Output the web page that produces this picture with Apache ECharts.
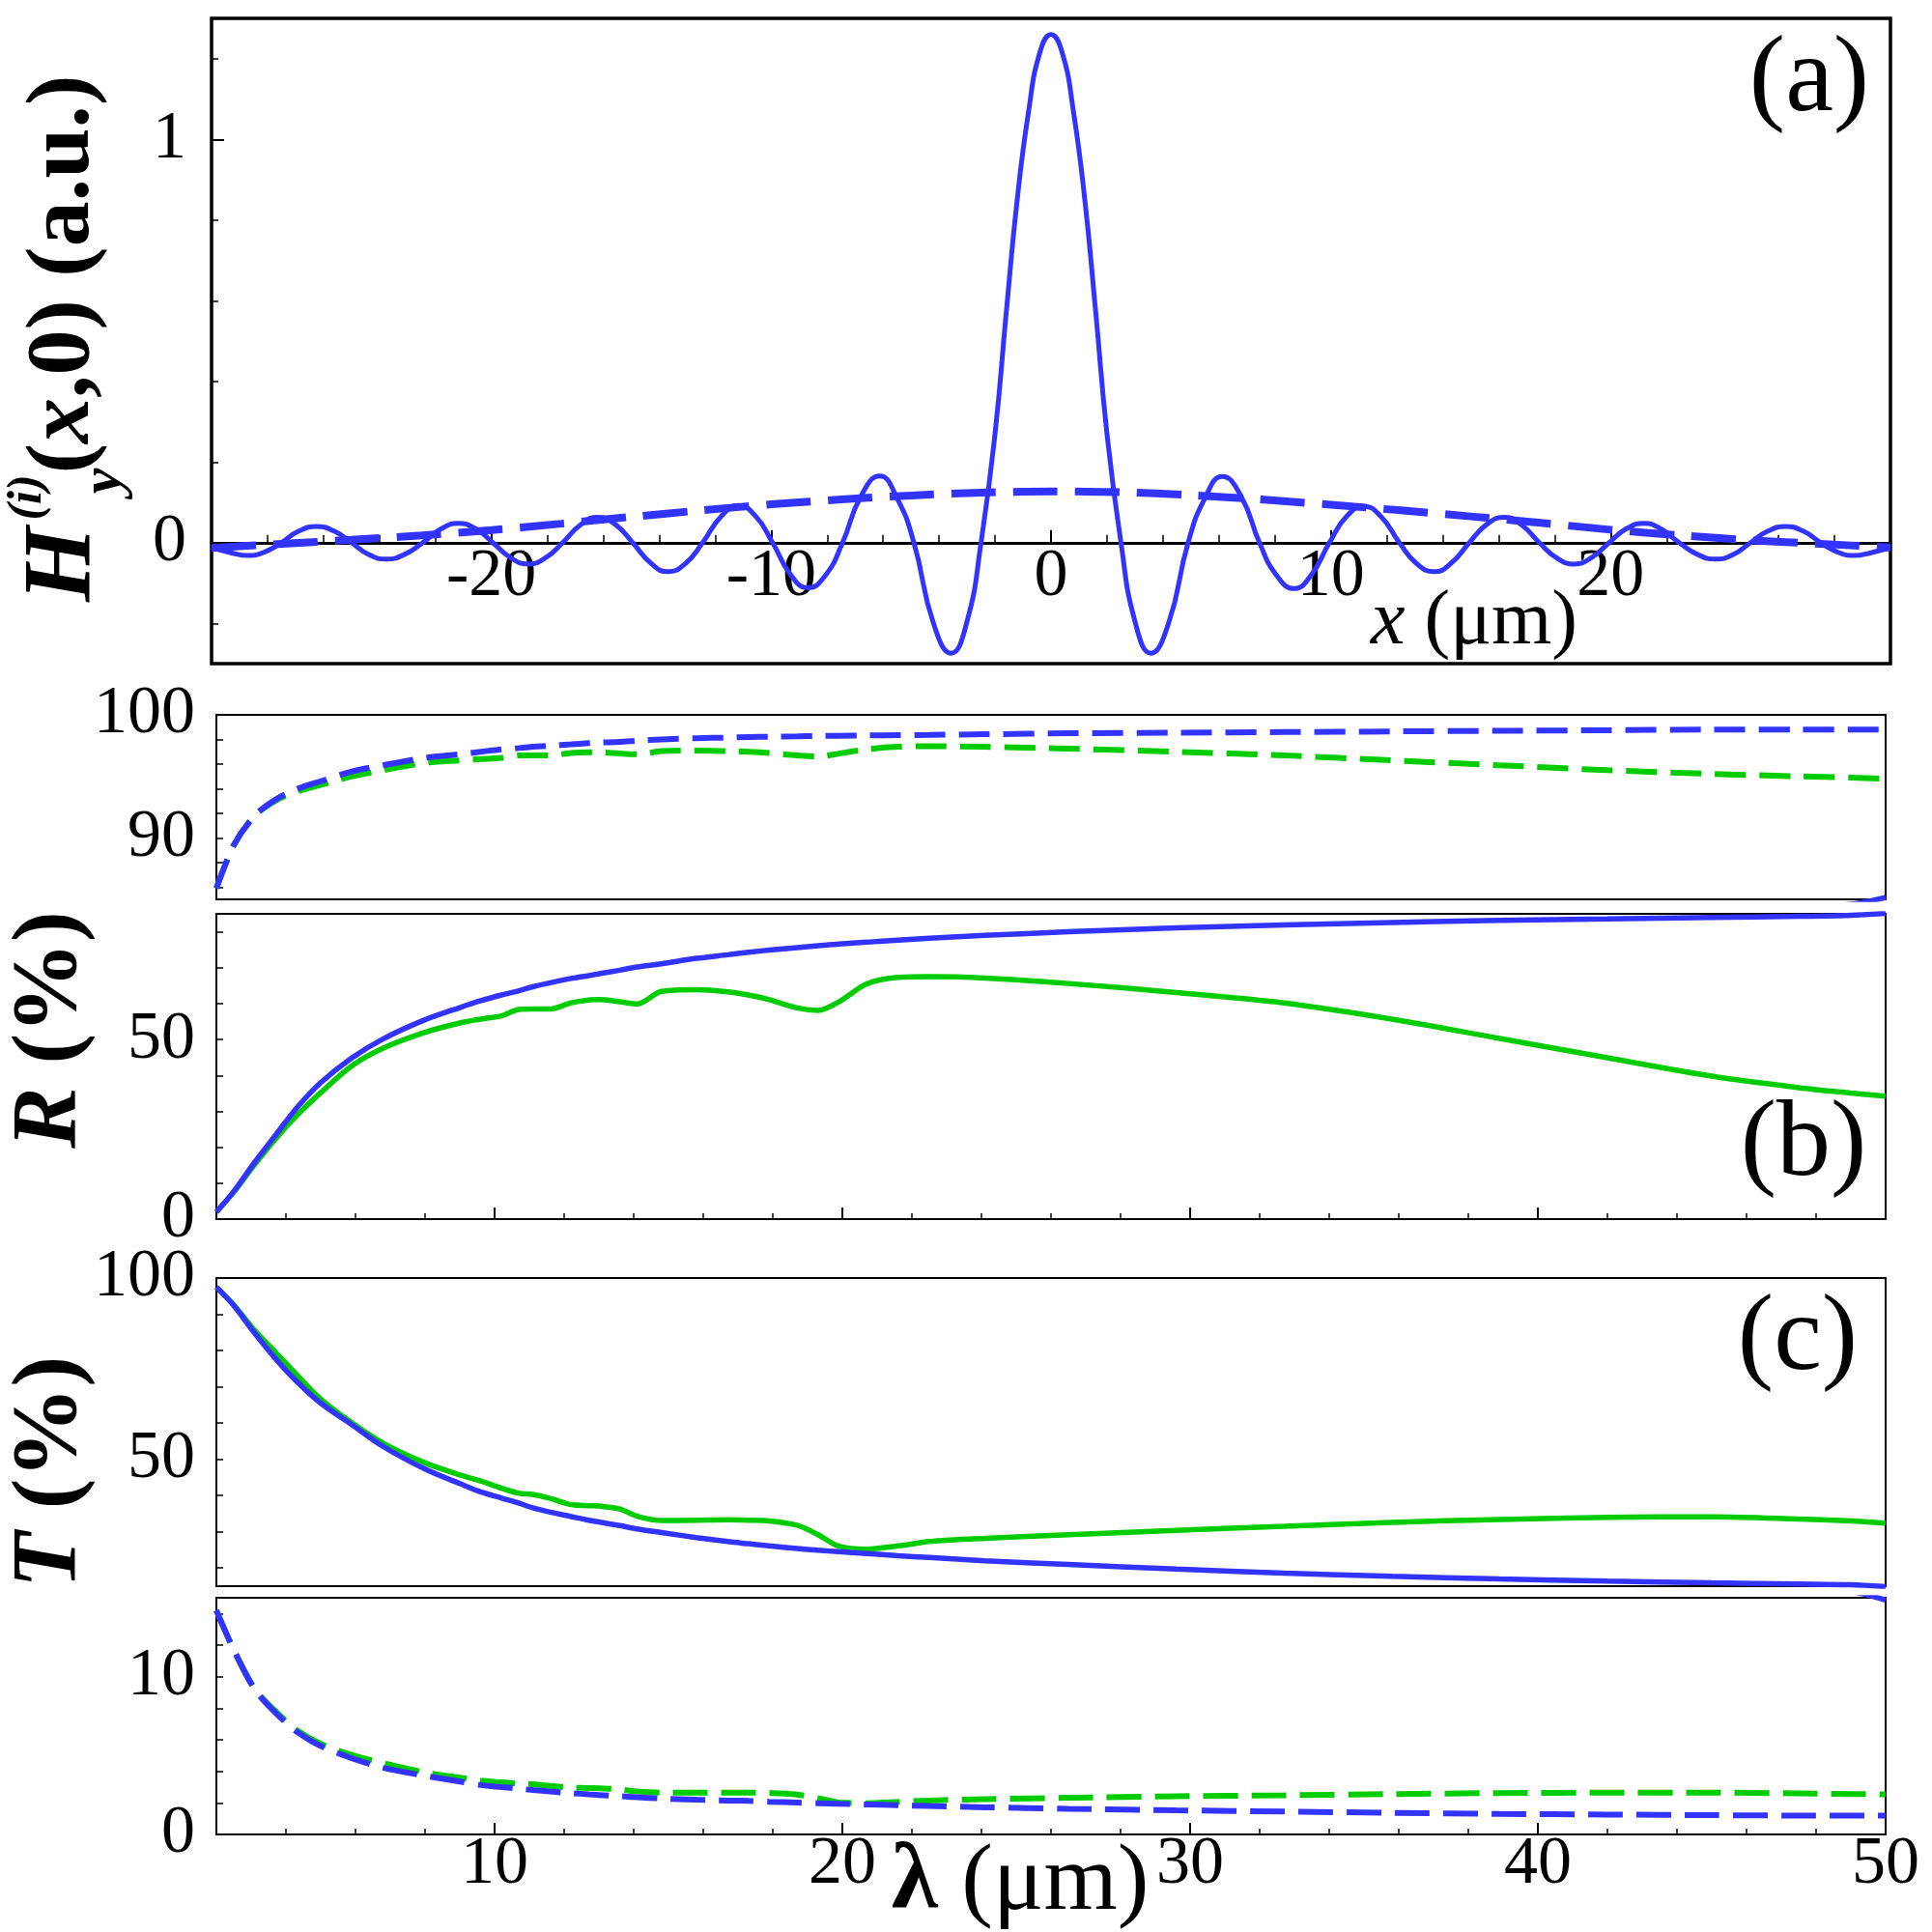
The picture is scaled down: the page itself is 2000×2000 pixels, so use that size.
<!DOCTYPE html>
<html>
<head>
<meta charset="utf-8">
<script src="https://cdn.jsdelivr.net/npm/echarts@6/dist/echarts.min.js"></script>
<style>
  html, body { margin: 0; padding: 0; background: #fff; }
  #chart { width: 2000px; height: 2000px; }
</style>
</head>
<body>
<div id="chart"></div>
<script>
// panel (a): incident field profile along x (um)
var xA = [-30, -29.3, -28.72, -28.1, -27.5, -26.9, -26.25, -25.6, -25.0, -24.4, -23.75, -23.1, -22.45, -21.8, -21.2, -20.55,
  -19.95, -19.3, -18.7, -18.05, -17.45, -16.8, -16.2, -15.55, -14.95, -14.3, -13.7, -13.05, -12.45, -11.8, -11.18, -10.55,
  -9.95, -9.3, -8.69, -8.05, -7.45, -6.8, -6.12, -5.5, -4.9, -4.2, -3.57, -3.0, -2.5, -2.0, -1.6, -1.2, -0.8, -0.4,
  0, 0.4, 0.8, 1.2, 1.6, 2.0, 2.5, 3.0, 3.57, 4.2, 4.9, 5.5, 6.12, 6.8, 7.45, 8.05, 8.69, 9.3, 9.95,
  10.55, 11.18, 11.8, 12.45, 13.05, 13.7, 14.3, 14.95, 15.55, 16.2, 16.8, 17.45, 18.05, 18.7, 19.3, 19.95,
  20.55, 21.2, 21.8, 22.45, 23.1, 23.75, 24.4, 25.0, 25.6, 26.25, 26.9, 27.5, 28.1, 28.72, 29.3, 30];
var hA = [-0.012, -0.025, -0.032, -0.023, 0, 0.028, 0.040, 0.028, 0, -0.029, -0.041, -0.029, 0, 0.034, 0.048, 0.034,
  0, -0.038, -0.053, -0.037, 0, 0.045, 0.063, 0.044, 0, -0.051, -0.072, -0.051, 0, 0.064, 0.092, 0.065,
  0, -0.08, -0.112, -0.08, 0, 0.114, 0.165, 0.11, 0, -0.2, -0.274, -0.195, 0, 0.27, 0.57, 0.855, 1.07, 1.215,
  1.26, 1.215, 1.07, 0.855, 0.57, 0.27, 0, -0.195, -0.274, -0.2, 0, 0.11, 0.164, 0.114, 0, -0.08, -0.114, -0.08, 0,
  0.064, 0.090, 0.064, 0, -0.051, -0.072, -0.051, 0, 0.044, 0.063, 0.045, 0, -0.037, -0.053, -0.038, 0,
  0.034, 0.048, 0.034, 0, -0.029, -0.041, -0.029, 0, 0.028, 0.040, 0.028, 0, -0.023, -0.032, -0.025, -0.012];
var xB = [-30, -27.5, -25, -22.5, -20, -17.5, -15, -12.5, -10, -7.5, -5, -2.5, 0, 2.5, 5, 7.5, 10, 12.5, 15, 17.5, 20, 22.5, 25, 27.5, 30];
var hB = [-0.013, -0.003, 0.007, 0.018, 0.031, 0.047, 0.064, 0.080, 0.095, 0.107, 0.117, 0.124, 0.127, 0.125, 0.118, 0.107,
  0.094, 0.080, 0.065, 0.049, 0.032, 0.018, 0.006, -0.003, -0.012];

// panels (b), (c): wavelength (um)
var lambda = [2.0, 2.5, 3.1, 3.75, 4.35, 5.0, 5.9, 6.8, 8.0, 9.0, 9.6, 10.2, 10.7, 11.1, 11.6, 12.2, 12.7, 13.0, 13.6, 14.1,
  14.8, 15.8, 16.7, 17.3, 17.9, 18.7, 19.3, 19.9, 20.7, 21.6, 22.5, 24.1, 26.5, 29.6, 32.7, 35.8, 38.9, 42.0, 45.0, 47.5, 49.0, 50.0];
// reflectance (%)
var rBlue = [2.0, 7.7, 15.8, 24.0, 31.4, 38.0, 44.9, 50.2, 55.5, 58.9, 60.8, 62.4, 63.6, 64.7, 65.8, 67.0, 67.8, 68.3, 69.3, 70.2,
  71.1, 72.6, 73.6, 74.3, 74.9, 75.6, 76.1, 76.6, 77.1, 77.7, 78.2, 79.0, 80.0, 81.1, 81.9, 82.6, 83.2, 83.6, 84.0, 84.3, 84.6, 85.15];
var rGreen = [2.0, 7.5, 15.2, 22.9, 29.2, 35.2, 42.7, 47.6, 52.0, 54.6, 55.7, 56.6, 58.4, 58.5, 58.5, 60.2, 61.0, 61.1, 60.5, 59.9,
  63.4, 63.9, 63.3, 62.4, 61.1, 58.8, 58.1, 60.5, 65.5, 67.3, 67.5, 67.1, 65.6, 63.1, 60.2, 55.7, 50.3, 44.9, 39.8, 36.6, 35.1, 34.2];
var rBlueDash = [85.9, 89.4, 91.8, 93.2, 94.0, 94.6, 95.4, 95.9, 96.5, 96.8, 97.0, 97.2, 97.3, 97.4, 97.5, 97.6, 97.7, 97.75, 97.8, 97.9,
  98.0, 98.1, 98.15, 98.2, 98.22, 98.25, 98.28, 98.3, 98.32, 98.35, 98.37, 98.42, 98.5, 98.55, 98.6, 98.65, 98.7, 98.75, 98.8, 98.8, 98.8, 98.8];
var rGreenDash = [85.9, 89.4, 91.8, 93.1, 93.8, 94.3, 95.0, 95.5, 96.1, 96.3, 96.4, 96.5, 96.7, 96.7, 96.7, 96.9, 96.95, 96.95, 96.85, 96.8,
  97.05, 97.1, 97.05, 97.0, 96.9, 96.7, 96.6, 96.85, 97.2, 97.4, 97.45, 97.4, 97.25, 97.0, 96.7, 96.3, 95.9, 95.5, 95.2, 95.0, 94.9, 94.8];
// transmittance (%)
var tBlue = [97.5, 92.4, 84.8, 77.2, 71.1, 65.5, 59.5, 53.5, 47.3, 43.3, 41.0, 39.3, 37.9, 36.6, 35.4, 34.2, 33.2, 32.7, 31.7, 30.8,
  29.8, 28.4, 27.3, 26.7, 26.1, 25.4, 24.9, 24.5, 24.0, 23.4, 22.9, 22.0, 21.0, 19.7, 18.6, 17.7, 17.0, 16.4, 15.9, 15.6, 15.4, 14.85];
var tGreen = [97.5, 92.6, 85.6, 79.0, 72.9, 66.6, 60.0, 54.4, 49.0, 45.7, 44.0, 42.0, 40.6, 40.3, 39.2, 37.5, 37.2, 37.1, 36.3, 34.3,
  33.1, 33.2, 33.3, 33.2, 33.0, 31.8, 29.2, 26.0, 25.2, 26.1, 27.3, 28.2, 29.2, 30.4, 31.5, 32.6, 33.4, 34.0, 34.1, 33.5, 33.0, 32.4];
var tBlueDash = [14.2, 11.7, 9.2, 7.6, 6.45, 5.6, 4.82, 4.22, 3.72, 3.35, 3.13, 3.0, 2.9, 2.81, 2.72, 2.62, 2.54, 2.5, 2.42, 2.36,
  2.28, 2.2, 2.15, 2.12, 2.07, 2.02, 1.98, 1.94, 1.9, 1.85, 1.8, 1.72, 1.63, 1.53, 1.45, 1.37, 1.3, 1.26, 1.22, 1.2, 1.2, 1.2];
var tGreenDash = [14.2, 11.7, 9.25, 7.7, 6.55, 5.74, 5.03, 4.52, 3.93, 3.6, 3.42, 3.3, 3.22, 3.18, 3.07, 2.97, 2.94, 2.93, 2.85, 2.72,
  2.65, 2.65, 2.65, 2.65, 2.63, 2.52, 2.3, 2.02, 1.98, 2.06, 2.15, 2.24, 2.32, 2.42, 2.48, 2.56, 2.62, 2.65, 2.65, 2.6, 2.56, 2.54];

var blue = '#3333ff';
var green = '#00cc00';
var serif = "'Liberation Serif', 'Times New Roman', serif";

var chart = echarts.init(document.getElementById('chart'));

function pairs(xs, ys) {
  return xs.map(function (x, i) { return [x, ys[i]]; });
}

function line(xi, yi, xs, ys, color, width, type, smooth) {
  return {
    type: 'line', xAxisIndex: xi, yAxisIndex: yi,
    data: pairs(xs, ys),
    symbol: 'none', showSymbol: false,
    smooth: smooth == null ? 0.3 : smooth,
    clip: true,
    lineStyle: { color: color, width: width, type: type || 'solid', cap: 'butt' }
  };
}

function frame(left, top, width, height, bw) {
  return { left: left, top: top, width: width, height: height, show: bw > 0, borderColor: '#000',
    borderWidth: bw, backgroundColor: 'transparent', outerBoundsMode: 'none', containLabel: false };
}

var tickLabel = { fontFamily: serif, fontSize: 70, color: '#000' };

function yAx(grid, min, max, ticks, labels, margin) {
  return {
    gridIndex: grid, type: 'value', min: min, max: max, position: 'left',
    axisLine: { show: false, onZero: false },
    axisTick: { inside: true, length: 7, customValues: ticks, lineStyle: { color: '#000', width: 1.5 } },
    axisLabel: Object.assign({ customValues: labels, margin: margin || 22 }, tickLabel),
    splitLine: { show: false }
  };
}

function lamAxis(grid, showTicks, labels) {
  return {
    gridIndex: grid, type: 'value', min: 2, max: 50, interval: 2, position: 'bottom', show: showTicks,
    axisLine: { show: false, onZero: false },
    axisTick: { show: showTicks, inside: true, length: 6, lineStyle: { color: '#000', width: 1.5 } },
    axisLabel: labels ? Object.assign({ customValues: labels, margin: -3 }, tickLabel) : { show: false },
    splitLine: { show: false }
  };
}

function lamMajor(grid) {
  return {
    gridIndex: grid, type: 'value', min: 2, max: 50, position: 'bottom',
    axisLine: { show: false, onZero: false },
    axisTick: { inside: true, length: 12, customValues: [10, 20, 30, 40], lineStyle: { color: '#000', width: 2 } },
    axisLabel: { show: false },
    splitLine: { show: false }
  };
}

function txt(x, y, text, rich, rot, extra) {
  var style = Object.assign({ text: text, rich: rich, fill: '#000', align: 'center', verticalAlign: 'middle',
    textAlign: 'center', textVerticalAlign: 'middle' }, extra || {});
  return { type: 'text', x: x, y: y, rotation: rot || 0, z: 10, style: style };
}

function rs(size, weight, italic) {
  return { fontFamily: serif, fontSize: size, fontWeight: weight || 'normal', fontStyle: italic ? 'italic' : 'normal', fill: '#000', color: '#000' };
}

var up = Math.PI / 2;

var option = {
  animation: false,
  backgroundColor: '#fff',
  grid: [
    frame(219, 19, 1738, 668, 3.5),
    frame(224, 740, 1728, 191, 2),
    frame(224, 946, 1728, 316, 2),
    frame(224, 1323, 1728, 319, 2),
    frame(224, 1654, 1728, 245, 2),
    // helper grid whose bottom edge sits on H = 0 of panel (a)
    frame(219, 19, 1738, 542.75, 0)
  ],
  xAxis: [
    { gridIndex: 0, type: 'value', min: -30, max: 30, show: false, splitLine: { show: false } },
    lamAxis(1, false),
    lamAxis(2, true),
    lamMajor(2),
    lamAxis(3, false),
    lamAxis(4, true, [10, 20, 30, 40, 50]),
    lamMajor(4),
    {
      gridIndex: 5, type: 'value', min: -30, max: 30, interval: 10, position: 'bottom',
      axisLine: { onZero: false, lineStyle: { color: '#000', width: 3 } },
      axisTick: { inside: true, length: 13, lineStyle: { color: '#000', width: 2 } },
      minorTick: { show: true, splitNumber: 5, length: 8, lineStyle: { color: '#000', width: 1.5 } },
      axisLabel: Object.assign({ customValues: [-20, -10, 0, 10, 20], margin: 1 }, tickLabel),
      splitLine: { show: false }
    }
  ],
  yAxis: [
    yAx(0, -0.3, 1.3, [-0.2, 0, 0.2, 0.4, 0.6, 0.8, 1, 1.2], [0, 1], 26),
    {
      gridIndex: 0, type: 'value', min: -0.3, max: 1.3, position: 'left',
      axisLine: { show: false, onZero: false },
      axisTick: { inside: true, length: 13, customValues: [0, 1], lineStyle: { color: '#000', width: 2 } },
      axisLabel: { show: false },
      splitLine: { show: false }
    },
    yAx(1, 85, 100, [86, 88, 90, 92, 94, 96, 98], [90, 100]),
    yAx(2, 0, 85, [10, 20, 30, 40, 50, 60, 70, 80], [0, 50]),
    yAx(3, 15, 100, [20, 30, 40, 50, 60, 70, 80, 90], [50, 100]),
    yAx(4, 0, 15, [2, 4, 6, 8, 10, 12, 14], [0, 10]),
    { gridIndex: 5, type: 'value', min: 0, max: 1, show: false, splitLine: { show: false } }
  ],
  series: [
    line(0, 0, xA, hA, blue, 5, 'solid', 0.5),
    line(0, 0, xB, hB, blue, 8, [46, 18], 0.3),

    line(1, 2, lambda, rGreenDash, green, 6, [32, 14]),
    line(1, 2, lambda, rBlueDash, blue, 6, [32, 14]),
    line(1, 2, lambda, rBlue, blue, 5.5),

    line(2, 3, lambda, rGreen, green, 5.5),
    line(2, 3, lambda, rBlue, blue, 5.5),

    line(4, 4, lambda, tGreen, green, 5.5),
    line(4, 4, lambda, tBlue, blue, 5.5),

    line(5, 5, lambda, tGreenDash, green, 6, [36, 14]),
    line(5, 5, lambda, tBlueDash, blue, 6, [36, 14]),
    line(5, 5, lambda, tBlue, blue, 5.5)
  ],
  graphic: [
    // panel letters
    txt(1873, 85, '(a)', null, 0, { font: '112px ' + serif }),
    txt(1867, 1187, '(b)', null, 0, { font: '112px ' + serif }),
    txt(1861, 1388, '(c)', null, 0, { font: '112px ' + serif }),
    // axis titles
    txt(1526, 645, '{i|x}{n| (\u03bcm)}', { i: rs(80, 'normal', true), n: rs(80) }),
    txt(1056, 1950, '{b|\u03bb}{n| (\u03bcm)}', { b: rs(98, 'bold'), n: rs(98) }),
    txt(53, 1066, '{bi|R}{b| (%)}', { bi: rs(95, 'bold', true), b: rs(95, 'bold') }, up),
    txt(53, 1524, '{bi|T}{b| (%)}', { bi: rs(95, 'bold', true), b: rs(95, 'bold') }, up),
    // H_y^(i)(x,0) (a.u.)
    txt(66, 584, 'H', null, up, { font: 'italic bold 100px ' + serif }),
    txt(29, 515, '(i)', null, up, { font: 'italic bold 50px ' + serif }),
    txt(108, 498, 'y', null, up, { font: 'italic bold 60px ' + serif }),
    txt(67, 284, '{b|(}{bi|x}{b|,0) (a.u.)}', { b: rs(94, 'bold'), bi: rs(94, 'bold', true) }, up)
  ]
};

chart.setOption(option);
</script>
</body>
</html>
